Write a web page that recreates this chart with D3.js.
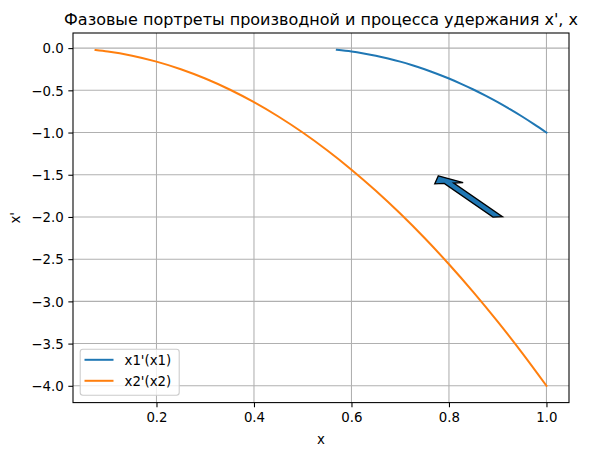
<!DOCTYPE html>
<html><head><meta charset="utf-8">
<script src="https://cdn.jsdelivr.net/npm/d3@7"></script>
<style>body{margin:0;background:#fff}svg{display:block}text{font-family:"DejaVu Sans",sans-serif;fill:#000}</style>
</head><body><svg id="c" width="597" height="455"></svg>
<script>
const title = "Фазовые портреты производной и процесса удержания x', x";
const xLabel = "x";
const yLabel = "x'";
const seriesNames = ["x1'(x1)", "x2'(x2)"];
const seriesColors = ["#1f77b4", "#ff7f0e"];
const x1 = [0.57,0.6,0.625,0.65,0.675,0.7,0.725,0.75,0.775,0.8,0.825,0.85,0.875,0.9,0.925,0.95,0.975,1.0];
const dx1 = [-0.020,-0.040,-0.063,-0.090,-0.123,-0.160,-0.203,-0.250,-0.303,-0.360,-0.423,-0.490,-0.563,-0.640,-0.723,-0.810,-0.903,-1.000];
const x2 = [0.075,0.1,0.15,0.2,0.25,0.3,0.35,0.4,0.45,0.5,0.55,0.6,0.65,0.7,0.75,0.8,0.85,0.9,0.95,1.0];
const dx2 = [-0.023,-0.04,-0.09,-0.16,-0.25,-0.36,-0.49,-0.64,-0.81,-1.0,-1.21,-1.44,-1.69,-1.96,-2.25,-2.56,-2.89,-3.24,-3.61,-4.0];
const xTicks = [0.2,0.4,0.6,0.8,1.0];
const yTicks = [0.0,-0.5,-1.0,-1.5,-2.0,-2.5,-3.0,-3.5,-4.0];
// arrow: x, y, dx, dy, width (data units)
const arrowSpec = [0.9, -2.0, -0.1, 0.4, 0.02];

const svg = d3.select("#c");
const L = 73, T = 33, W = 496, H = 369.6;
const allX = x1.concat(x2), allY = dx1.concat(dx2);
const [xmn, xmx] = d3.extent(allX), [ymn, ymx] = d3.extent(allY);
const mx = (xmx - xmn) * 0.05, my = (ymx - ymn) * 0.05;
const xs = d3.scaleLinear().domain([xmn - mx, xmx + mx]).range([L, L + W]);
const ys = d3.scaleLinear().domain([ymn - my, ymx + my]).range([T + H, T]);
const fmt = v => d3.format(".1f")(v).replace("-", "\u2212");

const g = svg.append("g");
// grid
g.selectAll(".gx").data(xTicks).enter().append("line")
  .attr("x1", d => xs(d)).attr("x2", d => xs(d)).attr("y1", T).attr("y2", T + H)
  .attr("stroke", "#b0b0b0").attr("stroke-width", 1.07);
g.selectAll(".gy").data(yTicks).enter().append("line")
  .attr("y1", d => ys(d)).attr("y2", d => ys(d)).attr("x1", L).attr("x2", L + W)
  .attr("stroke", "#b0b0b0").attr("stroke-width", 1.07);

// arrow (matplotlib FancyArrow)
(function(){
  const [ax, ay, adx, ady, w] = arrowSpec;
  const hw = 3 * w, hl = 1.5 * hw;
  const dist = Math.hypot(adx, ady), len = dist + hl;
  let left = [[0,0],[-hl,-hw/2],[-hl,-w/2],[-len,-w/2],[-len,0]].map(p => [p[0] + hl, p[1]]);
  const right = left.map(p => [p[0], -p[1]]);
  const coords = left.slice(0, -1).concat(right.slice(0, -1).reverse());
  const cx = adx / dist, sx = ady / dist;
  const verts = coords.map(([a, b]) => [a * cx - b * sx + ax + adx, a * sx + b * cx + ay + ady]);
  g.append("path").attr("d", "M" + verts.map(v => xs(v[0]) + "," + ys(v[1])).join("L") + "Z")
    .attr("fill", "#1f77b4").attr("stroke", "#000").attr("stroke-width", 1.33).attr("stroke-linejoin", "miter");
})();

// lines
const line = d3.line().x(d => xs(d[0])).y(d => ys(d[1])).curve(d3.curveMonotoneX);
[[x1, dx1], [x2, dx2]].forEach(([xx, yy], i) => {
  g.append("path").attr("d", line(xx.map((v, j) => [v, yy[j]])))
    .attr("fill", "none").attr("stroke", seriesColors[i]).attr("stroke-width", 2).attr("stroke-linecap", "square");
});

// axes
const xAxis = d3.axisBottom(xs).tickValues(xTicks).tickSize(4.67).tickPadding(4.67).tickFormat(fmt);
const yAxis = d3.axisLeft(ys).tickValues(yTicks).tickSize(4.67).tickPadding(4.67).tickFormat(fmt);
const gx = svg.append("g").attr("transform", `translate(0,${T + H})`).call(xAxis);
const gy = svg.append("g").attr("transform", `translate(${L},0)`).call(yAxis);
[gx, gy].forEach(a => {
  a.select(".domain").remove();
  a.selectAll(".tick line").attr("stroke", "#000").attr("stroke-width", 1.07);
  a.selectAll(".tick text").attr("font-size", "13.33px").attr("font-family", "DejaVu Sans").attr("fill", "#000");
});
gx.selectAll(".tick text").attr("dy", "0.75em");
gy.selectAll(".tick text").attr("dy", "0.36em");
svg.append("rect").attr("x", L).attr("y", T).attr("width", W).attr("height", H)
  .attr("fill", "none").attr("stroke", "#000").attr("stroke-width", 1.07);

// labels
svg.append("text").attr("x", L + W / 2).attr("y", 25).attr("text-anchor", "middle").attr("font-size", "16px").text(title);
svg.append("text").attr("x", L + W / 2).attr("y", 444).attr("text-anchor", "middle").attr("font-size", "13.33px").text(xLabel);
svg.append("text").attr("transform", `translate(20,${T + H / 2}) rotate(-90)`).attr("text-anchor", "middle").attr("font-size", "13.33px").text(yLabel);

// legend
const lg = svg.append("g");
lg.append("rect").attr("x", 80.2).attr("y", 349.2).attr("width", 99).attr("height", 46).attr("rx", 2.7)
  .attr("fill", "#fff").attr("fill-opacity", 0.8).attr("stroke", "#cccccc").attr("stroke-width", 1.07);
seriesNames.forEach((n, i) => {
  const yy = 359.8 + i * 21;
  lg.append("line").attr("x1", 84.5).attr("x2", 113.5).attr("y1", yy).attr("y2", yy)
    .attr("stroke", seriesColors[i]).attr("stroke-width", 2);
  lg.append("text").attr("x", 124.5).attr("y", yy + 4.8).attr("font-size", "13.33px").text(n);
});
</script></body></html>
